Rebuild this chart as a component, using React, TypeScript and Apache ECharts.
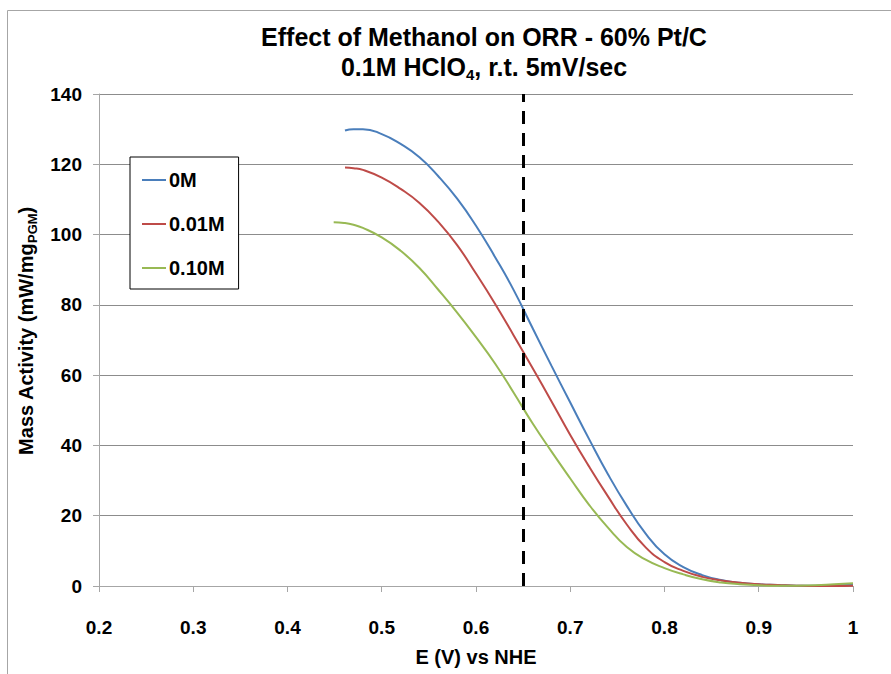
import React, { useEffect, useRef } from "react";
import * as echarts from "echarts";

const E0M = [0.461, 0.47, 0.48, 0.50, 0.52, 0.54, 0.56, 0.58, 0.60, 0.62, 0.64, 0.66, 0.68, 0.70, 0.72, 0.74, 0.76, 0.78, 0.80, 0.82, 0.84, 0.86, 0.88, 0.90, 0.92, 0.94, 0.96, 0.98, 1.00];
const A0M = [129.6, 130.0, 130.0, 128.6, 125.8, 122.0, 116.6, 110.2, 102.5, 93.7, 84.2, 73.4, 62.7, 52.2, 41.8, 31.8, 22.8, 14.9, 9.0, 5.4, 3.1, 1.7, 0.9, 0.5, 0.3, 0.1, 0.1, 0.2, 0.3];

const E001M = [0.461, 0.47, 0.48, 0.50, 0.52, 0.54, 0.56, 0.58, 0.60, 0.62, 0.64, 0.66, 0.68, 0.70, 0.72, 0.74, 0.76, 0.78, 0.80, 0.82, 0.84, 0.86, 0.88, 0.90, 0.92, 0.94, 0.96, 0.98, 1.00];
const A001M = [119.1, 118.9, 118.4, 116.2, 113.0, 109.0, 103.6, 97.0, 88.9, 80.4, 71.3, 62.0, 52.6, 43.0, 34.0, 25.5, 17.5, 11.0, 6.8, 4.3, 2.6, 1.6, 0.9, 0.5, 0.3, 0.1, 0.0, 0.0, 0.1];

const E010M = [0.449, 0.46, 0.47, 0.48, 0.50, 0.52, 0.54, 0.56, 0.58, 0.60, 0.62, 0.64, 0.66, 0.68, 0.70, 0.72, 0.74, 0.76, 0.78, 0.80, 0.82, 0.84, 0.86, 0.88, 0.90, 0.92, 0.94, 0.96, 0.98, 1.00];
const A010M = [103.5, 103.3, 102.8, 101.9, 99.2, 95.4, 90.5, 84.3, 77.8, 70.8, 63.4, 55.0, 46.3, 38.3, 30.6, 23.1, 16.6, 11.1, 7.5, 5.1, 3.3, 1.9, 1.0, 0.5, 0.2, 0.1, 0.1, 0.2, 0.5, 0.8];

const SERIES_NAMES = ["0M", "0.01M", "0.10M"];
const MARK_E = 0.653;

const FONT = "'Liberation Sans', Arial, sans-serif";

function pairs(xs: number[], ys: number[]) {
  return xs.map((x, i) => [x, ys[i]]);
}

export default function App() {
  const ref = useRef<HTMLDivElement>(null);
  useEffect(() => {
    if (!ref.current) return;
    const chart = echarts.init(ref.current, null, { renderer: "svg" });
    const lineCommon = {
      type: "line" as const,
      symbol: "none",
      smooth: 0.5,
      showSymbol: false,
    };
    chart.setOption({
      animation: false,
      backgroundColor: "#fff",
      title: {
        text: "Effect of Methanol on ORR - 60% Pt/C\n0.1M HClO{s|4}, r.t. 5mV/sec",
        left: 484,
        top: 22,
        padding: 0,
        textAlign: "center",
        textStyle: {
          fontFamily: FONT,
          fontSize: 25,
          fontWeight: "bold",
          color: "#000",
          lineHeight: 30,
          rich: {
            s: { fontFamily: FONT, fontSize: 15, fontWeight: "bold", color: "#000", verticalAlign: "bottom", lineHeight: 9 },
          },
        },
      },
      graphic: [
        {
          type: "rect",
          shape: { x: 7.5, y: 10.5, width: 1000, height: 1000 },
          style: { fill: "none", stroke: "#a6a6a6", lineWidth: 1 },
          silent: true,
          z: -1,
        },
      ],
      legend: {
        data: SERIES_NAMES,
        orient: "vertical",
        left: 130,
        top: 157,
        padding: [13, 14, 11, 12],
        itemGap: 24,
        itemWidth: 24,
        itemHeight: 2,
        icon: "rect",
        backgroundColor: "#fff",
        borderColor: "#000",
        borderWidth: 1,
        textStyle: { fontFamily: FONT, fontSize: 20, fontWeight: "bold", color: "#000", lineHeight: 20, padding: [0, 0, 0, -2] },
      },
      grid: { left: 99, right: 38, top: 94, bottom: 88 },
      xAxis: {
        type: "value",
        min: 0.2,
        max: 1,
        interval: 0.1,
        name: "E (V) vs NHE",
        nameLocation: "middle",
        nameGap: 61,
        nameTextStyle: { fontFamily: FONT, fontSize: 20, fontWeight: "bold", color: "#000" },
        axisLine: { show: true, lineStyle: { color: "#a6a6a6", width: 1 } },
        axisTick: { show: true, inside: false, length: 6, lineStyle: { color: "#a6a6a6" } },
        splitLine: { show: false },
        axisLabel: {
          fontFamily: FONT,
          fontSize: 19,
          fontWeight: "bold",
          color: "#000",
          margin: 32,
          formatter: (v: number) => String(Math.round(v * 10) / 10),
        },
      },
      yAxis: {
        type: "value",
        min: 0,
        max: 140,
        interval: 20,
        name: "{p|Mass Activity (mW/mg}{b|PGM}{a|)}",
        nameLocation: "middle",
        nameGap: 59,
        nameTextStyle: {
          rich: {
            p: { fontFamily: FONT, fontSize: 20, fontWeight: "bold", color: "#000", lineHeight: 26, padding: [0, 0, 0, 18] },
            a: { fontFamily: FONT, fontSize: 20, fontWeight: "bold", color: "#000", lineHeight: 26 },
            b: { fontFamily: FONT, fontSize: 13, fontWeight: "bold", color: "#000", verticalAlign: "bottom", lineHeight: 8 },
          },
        },
        axisLine: { show: true, lineStyle: { color: "#a6a6a6", width: 1 } },
        axisTick: { show: true, inside: false, length: 6, lineStyle: { color: "#a6a6a6" } },
        splitLine: { show: true, lineStyle: { color: "#8c8c8c", width: 1 } },
        axisLabel: { fontFamily: FONT, fontSize: 19, fontWeight: "bold", color: "#000", margin: 17 },
      },
      series: [
        {
          ...lineCommon,
          name: SERIES_NAMES[0],
          data: pairs(E0M, A0M),
          lineStyle: { color: "#4A7EBB", width: 2 },
          itemStyle: { color: "#4A7EBB" },
          z: 3,
          markLine: {
            silent: true,
            symbol: "none",
            label: { show: false },
            lineStyle: { color: "#000", width: 3, type: [13, 9] },
            data: [{ xAxis: MARK_E }],
          },
        },
        {
          ...lineCommon,
          name: SERIES_NAMES[1],
          data: pairs(E001M, A001M),
          lineStyle: { color: "#BE4B48", width: 2 },
          itemStyle: { color: "#BE4B48" },
          z: 3,
        },
        {
          ...lineCommon,
          name: SERIES_NAMES[2],
          data: pairs(E010M, A010M),
          lineStyle: { color: "#98B954", width: 2 },
          itemStyle: { color: "#98B954" },
          z: 3,
        },
      ],
    });
    return () => chart.dispose();
  }, []);
  return (
    <div
      ref={ref}
      style={{ position: "fixed", left: 0, top: 0, width: 891, height: 674, background: "#fff" }}
    />
  );
}
